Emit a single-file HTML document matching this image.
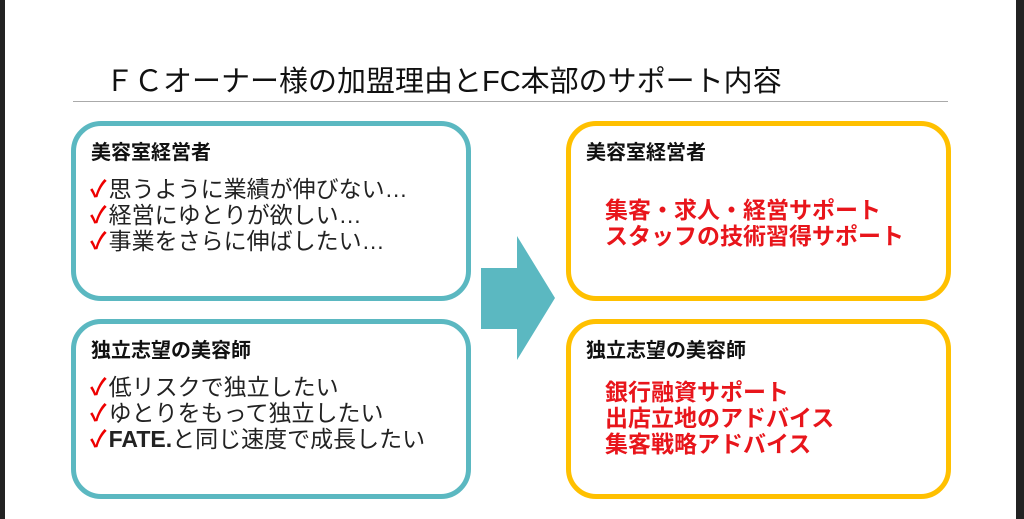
<!DOCTYPE html>
<html><head><meta charset="utf-8"><style>
body{margin:0;width:1024px;height:519px;background:#fff;position:relative;overflow:hidden;font-family:"Liberation Sans","Noto Sans CJK JP",sans-serif;}
.edgeL{position:absolute;left:0;top:0;width:5px;height:519px;background:#222;}
.edgeR{position:absolute;right:0;top:0;width:8px;height:519px;background:#222;}
.title{position:absolute;left:105px;top:58px;font-size:29px;color:#111;white-space:nowrap;}
.rule{position:absolute;left:73px;top:101px;width:875px;height:1px;background:#aaa;}
.box{position:absolute;border:5px solid #5bb8c1;border-radius:30px;box-sizing:border-box;}
.y{border-color:#ffc000;}
.h{position:absolute;left:15px;top:10px;font-weight:bold;font-size:20px;color:#111;white-space:nowrap;}
.list{position:absolute;left:14px;top:50px;font-size:23px;line-height:26px;color:#222;white-space:nowrap;}
.list span{color:#e00;font-weight:bold;margin-right:2px;}
.red{position:absolute;left:34px;top:68px;font-size:23px;line-height:26px;color:#e8151b;font-weight:bold;white-space:nowrap;}
</style></head><body>
<div class="edgeL"></div><div class="edgeR"></div>
<div class="title">ＦＣオーナー様の加盟理由とFC本部のサポート内容</div>
<div class="rule"></div>
<div class="box" style="left:71px;top:121px;width:400px;height:180px">
 <div class="h">美容室経営者</div>
 <div class="list"><span>✓</span>思うように業績が伸びない…<br><span>✓</span>経営にゆとりが欲しい…<br><span>✓</span>事業をさらに伸ばしたい…</div>
</div>
<div class="box" style="left:71px;top:319px;width:400px;height:180px">
 <div class="h">独立志望の美容師</div>
 <div class="list"><span>✓</span>低リスクで独立したい<br><span>✓</span>ゆとりをもって独立したい<br><span>✓</span><b>FATE.</b>と同じ速度で成長したい</div>
</div>
<svg style="position:absolute;left:0;top:0" width="1024" height="519"><polygon points="481,268 517,268 517,236 555,298 517,360 517,329 481,329" fill="#5bb8c1"/></svg>
<div class="box y" style="left:566px;top:121px;width:385px;height:180px">
 <div class="h">美容室経営者</div>
 <div class="red" style="top:71px">集客・求人・経営サポート<br>スタッフの技術習得サポート</div>
</div>
<div class="box y" style="left:566px;top:319px;width:385px;height:180px">
 <div class="h">独立志望の美容師</div>
 <div class="red" style="top:55px">銀行融資サポート<br>出店立地のアドバイス<br>集客戦略アドバイス</div>
</div>
</body></html>
